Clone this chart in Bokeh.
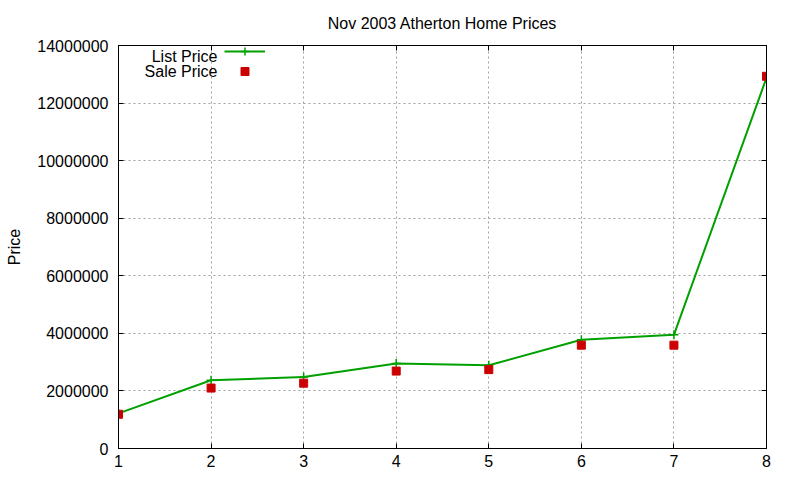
from bokeh.plotting import figure
from bokeh.models import (FixedTicker, NumeralTickFormatter, LinearAxis, Range1d,
                          Legend, LegendItem, Label)
from bokeh.embed import file_html
from bokeh.resources import INLINE

# data (house number vs price)
houses = [1, 2, 3, 4, 5, 6, 7, 8]
list_price = [1220000, 2370000, 2480000, 2950000, 2890000, 3780000, 3950000, 12880000]
sale_price = [1190000, 2100000, 2270000, 2690000, 2740000, 3590000, 3590000, 12930000]
y_ticks = [0, 2000000, 4000000, 6000000, 8000000, 10000000, 12000000, 14000000]

FONT = "Liberation Sans"
GREEN = "#00a000"
RED = "#cc0000"

p = figure(width=800, height=480, output_backend="svg", toolbar_location=None,
           title=None, x_range=Range1d(1, 8), y_range=Range1d(0, 14000000),
           min_border_left=118, min_border_right=34, min_border_top=45,
           min_border_bottom=32)

p.outline_line_color = "black"
p.outline_line_width = 1

# axes: gnuplot style, ticks pointing in
def style_axis(ax, ticks):
    ax.ticker = FixedTicker(ticks=ticks)
    ax.major_tick_in = 5
    ax.major_tick_out = 0
    ax.minor_tick_line_color = None
    ax.axis_line_color = "black"
    ax.major_tick_line_color = "black"
    ax.major_label_text_font = FONT
    ax.major_label_text_font_size = "16px"
    ax.major_label_text_color = "black"
    ax.axis_label_text_font = FONT
    ax.axis_label_text_font_size = "16px"
    ax.axis_label_text_font_style = "normal"
    ax.axis_label_text_color = "black"

style_axis(p.xaxis[0], houses)
p.xaxis[0].major_label_standoff = 6
style_axis(p.yaxis[0], y_ticks)
p.yaxis[0].formatter = NumeralTickFormatter(format="0")
p.yaxis[0].major_label_standoff = 10
p.yaxis[0].axis_label = "Price"
p.yaxis[0].axis_label_standoff = 11

# mirrored ticks on top (carrying the title, gnuplot style) and right
top = LinearAxis(axis_label="Nov 2003 Atherton Home Prices")
style_axis(top, houses)
top.major_label_overrides = {t: "" for t in houses}
top.major_label_text_font_size = "0px"
top.major_label_standoff = 0
top.axis_label_standoff = 14
p.add_layout(top, "above")
right = LinearAxis()
style_axis(right, y_ticks)
right.major_label_overrides = {t: "" for t in y_ticks}
right.major_label_text_font_size = "0px"
right.major_label_standoff = 0
p.add_layout(right, "right")

for g in (p.xgrid[0], p.ygrid[0]):
    g.grid_line_color = "#a0a0a0"
    g.grid_line_dash = "2 3"
    g.grid_line_width = 1
p.xgrid[0].ticker = FixedTicker(ticks=houses)
p.ygrid[0].ticker = FixedTicker(ticks=y_ticks)

l_line = p.line(houses, list_price, color=GREEN, line_width=2)
l_pts = p.scatter(houses, list_price, marker="cross", size=9, line_color=GREEN, line_width=1.5)
s_pts = p.scatter(houses, sale_price, marker="square", size=8, fill_color=RED,
                  line_color=RED)

# gnuplot-like key: text on the left, sample on the right
legend = Legend(items=[LegendItem(label="", renderers=[l_line, l_pts]),
                       LegendItem(label="", renderers=[s_pts])],
                location=(106, 367), glyph_width=41, glyph_height=20,
                label_height=15, label_width=0, label_standoff=0, spacing=-5,
                padding=0, margin=0, border_line_color=None,
                background_fill_alpha=0)
p.add_layout(legend)
for txt, yy in (("List Price", 392), ("Sale Price", 377)):
    p.add_layout(Label(x=99, y=yy, x_units="screen", y_units="screen", text=txt,
                       text_align="right", text_baseline="middle",
                       text_font=FONT, text_font_size="16px", text_color="black"))

open("out.html", "w").write(file_html(p, INLINE))
